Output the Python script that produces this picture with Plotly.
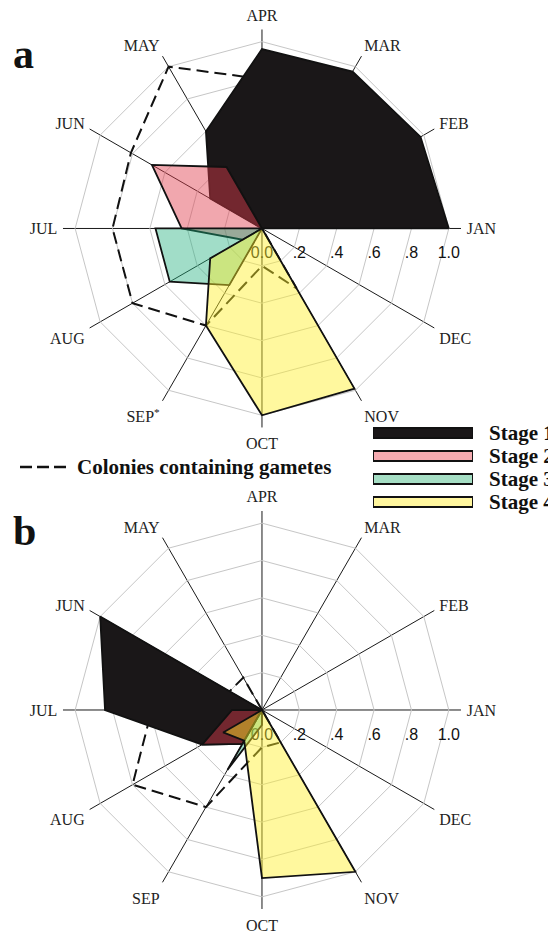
import plotly.graph_objects as go

# ---------------- data ----------------
months = ["JAN", "FEB", "MAR", "APR", "MAY", "JUN", "JUL", "AUG", "SEP", "OCT", "NOV", "DEC"]
month_labels_a = ["JAN", "FEB", "MAR", "APR", "MAY", "JUN", "JUL", "AUG", "SEP<sup>*</sup>", "OCT", "NOV", "DEC"]
month_labels_b = months
radial_ticks = [0, 0.2, 0.4, 0.6, 0.8, 1.0]
radial_ticktext = ["0.0", ".2", ".4", ".6", ".8", "1.0"]

stage_names = ["Stage 1", "Stage 2", "Stage 3", "Stage 4"]
gamete_name = "Colonies containing gametes"

# panel a (JAN..DEC)
a_stage1 = [1.00, 0.98, 0.97, 0.96, 0.60, 0.32, 0, 0, 0, 0, 0, 0]
a_stage2 = [0, 0, 0, 0, 0.38, 0.68, 0.43, 0.12, 0, 0, 0, 0]
a_stage3 = [0, 0, 0, 0, 0, 0, 0.57, 0.57, 0.35, 0, 0, 0]
a_stage4 = [0, 0, 0, 0, 0, 0, 0, 0.32, 0.60, 1.00, 0.99, 0]
a_gametes = [None, None, None, 0.80, 1.00, 0.81, 0.80, 0.80, 0.60, 0.20, 0.37, 0]

# panel b (JAN..DEC)
b_stage1 = [0, 0, 0, 0, 0, 1.00, 0.84, 0.37, 0.21, 0, 0, 0]
b_stage2 = [0, 0, 0, 0, 0, 0, 0.16, 0.37, 0.21, 0, 0, 0]
b_stage3 = [0, 0, 0, 0, 0, 0, 0, 0, 0.37, 0.08, 0, 0]
b_stage4 = [0, 0, 0, 0, 0, 0, 0, 0.24, 0.19, 0.90, 1.00, 0]
b_gametes = [0, 0, 0, 0, 0.20, 0.20, 0.59, 0.80, 0.60, 0.20, 0.20, 0]

legend_values = [1, 1, 1, 1]

# ---------------- styles ----------------
stage_fill = ["rgb(26,23,24)", "rgba(225,60,75,0.45)", "rgba(30,175,125,0.42)", "rgba(255,240,40,0.45)"]
SERIF = "Liberation Serif"
SANS = "Liberation Sans"

fig = go.Figure()


def closed(vals):
    return list(vals) + [vals[0]], months + [months[0]]


def add_panel(polar, stages, gametes):
    fig.add_trace(go.Scatterpolar(
        r=gametes, theta=months, mode="lines", subplot=polar,
        line=dict(color="#111", width=2, dash="12px,6px"),
        showlegend=False, hoverinfo="skip"))
    for vals, col in zip(stages, stage_fill):
        r, th = closed(vals)
        fig.add_trace(go.Scatterpolar(
            r=r, theta=th, mode="lines", fill="toself", fillcolor=col,
            subplot=polar, line=dict(color="#111", width=1.8),
            showlegend=False, hoverinfo="skip"))


add_panel("polar", [a_stage1, a_stage2, a_stage3, a_stage4], a_gametes)
add_panel("polar2", [b_stage1, b_stage2, b_stage3, b_stage4], b_gametes)

# legend: stage bars
fig.add_trace(go.Bar(
    x=legend_values, y=stage_names, orientation="h", xaxis="x", yaxis="y",
    marker=dict(color=["rgb(26,23,24)", "rgb(244,170,176)", "rgb(165,222,196)", "rgb(255,246,158)"],
                line=dict(color="#111", width=2)),
    showlegend=False, hoverinfo="skip"))

# legend: dashed gametes line
fig.add_trace(go.Scatter(
    x=[0, 1], y=[gamete_name, gamete_name], mode="lines", xaxis="x2", yaxis="y2",
    line=dict(color="#111", width=2.5, dash="12px,5px"),
    showlegend=False, hoverinfo="skip"))


def polar_layout(domain_y, labels):
    return dict(
        domain=dict(x=[0.0989, 0.8147], y=domain_y),
        bgcolor="rgba(0,0,0,0)",
        gridshape="linear",
        radialaxis=dict(range=[0, 1.065], tickmode="array", tickvals=radial_ticks,
                        ticktext=radial_ticktext, showline=False,
                        ticks="outside", ticklen=10, tickcolor="rgba(0,0,0,0)",
                        gridcolor="#c6c6c6", gridwidth=1, angle=0, tickangle=0,
                        layer="below traces",
                        tickfont=dict(family=SANS, size=16, color="#111")),
        angularaxis=dict(type="category", categoryorder="array", categoryarray=months,
                         tickmode="array", tickvals=months, ticktext=labels,
                         rotation=0, direction="counterclockwise", showline=False,
                         gridcolor="#1a1a1a", gridwidth=1.3,
                         ticks="outside", ticklen=2, tickcolor="rgba(0,0,0,0)",
                         layer="below traces",
                         tickfont=dict(family=SERIF, size=16, color="#222")),
    )


fig.update_layout(
    width=556, height=934,
    margin=dict(l=0, r=0, t=0, b=0, autoexpand=False),
    paper_bgcolor="white", plot_bgcolor="rgba(0,0,0,0)",
    polar=polar_layout([0.5509, 0.9770], month_labels_a),
    polar2=polar_layout([0.0353, 0.4615], month_labels_b),
    bargap=0.56,
    xaxis=dict(domain=[0.6565, 0.8363], range=[0, 1], anchor="y", visible=False, fixedrange=True),
    yaxis=dict(domain=[0.4588, 0.5573], anchor="x", autorange="reversed", side="right",
               tickmode="array", tickvals=stage_names, ticktext=stage_names,
               showgrid=False, zeroline=False, showline=False, ticks="",
               automargin=False, ticklabelstandoff=15,
               tickfont=dict(family=SERIF, size=21, color="#111", weight="bold")),
    xaxis2=dict(domain=[0.0216, 0.1079], range=[0, 1], anchor="y2", visible=False, fixedrange=True),
    yaxis2=dict(domain=[0.4979, 0.5193], anchor="x2", side="right", showgrid=False, zeroline=False,
                tickmode="array", tickvals=[gamete_name], ticktext=[gamete_name],
                showline=False, ticks="", automargin=False, ticklabelstandoff=8,
                tickfont=dict(family=SERIF, size=21, color="#111", weight="bold")),
    annotations=[
        dict(text="a", x=0.006, y=0.977, xref="paper", yref="paper", xanchor="left", yanchor="top",
             showarrow=False, font=dict(family=SERIF, size=42, color="#111", weight="bold")),
        dict(text="b", x=0.006, y=0.467, xref="paper", yref="paper", xanchor="left", yanchor="top",
             showarrow=False, font=dict(family=SERIF, size=42, color="#111", weight="bold")),
    ],
)

fig.write_html("out.html")
